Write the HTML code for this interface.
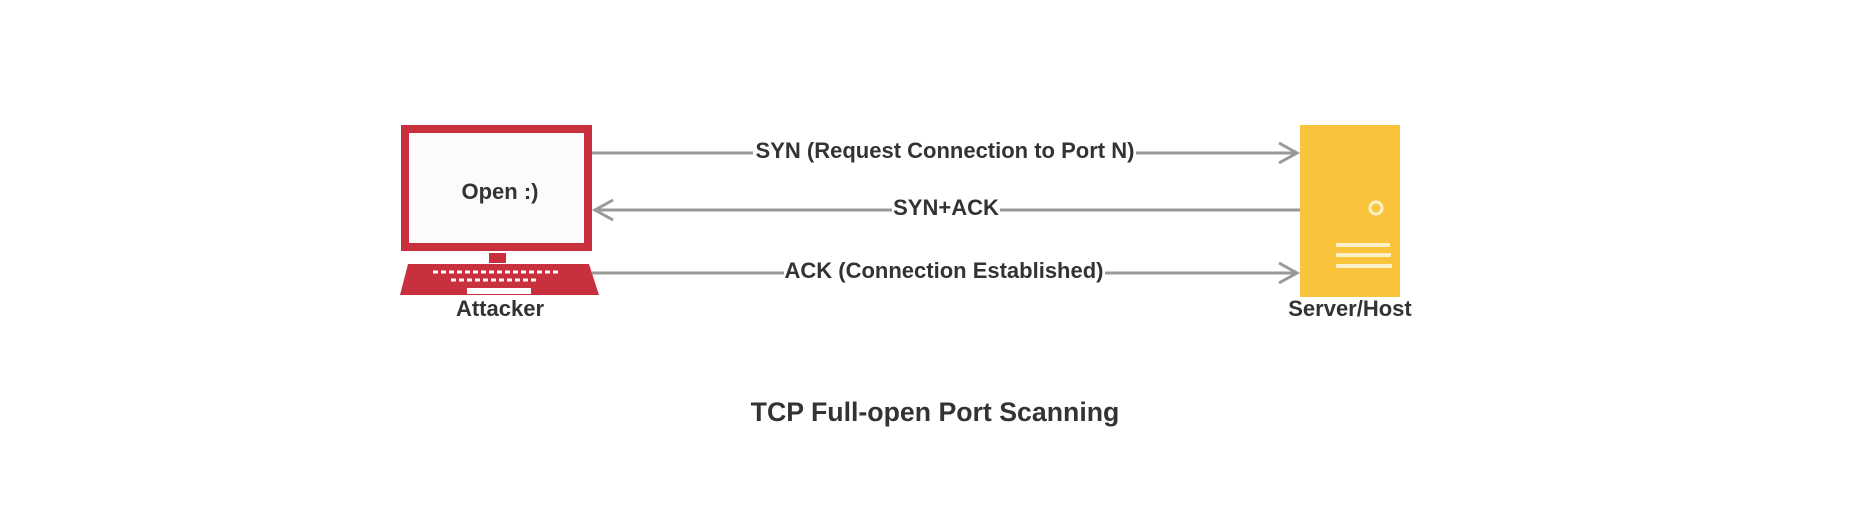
<!DOCTYPE html>
<html><head><style>
body{margin:0;background:#fff;}
svg{display:block;}
text{font-family:"Liberation Sans",sans-serif;font-weight:bold;fill:#333;}
</style></head><body>
<svg width="1870" height="510" viewBox="0 0 1870 510">
<rect x="405" y="129" width="183" height="118" fill="#fcfafa" stroke="#c9303e" stroke-width="8"/>
<rect x="489" y="253" width="17" height="10" fill="#c9303e"/>
<polygon points="408,264 589,264 599,295 400,295" fill="#c9303e"/>
<line x1="433" y1="272" x2="558" y2="272" stroke="#fff" stroke-width="3" stroke-dasharray="5,3"/>
<line x1="451" y1="280" x2="539" y2="280" stroke="#fff" stroke-width="3" stroke-dasharray="5,3"/>
<rect x="467" y="288" width="64" height="6" fill="#fff"/>
<text x="500" y="199" font-size="22" text-anchor="middle">Open :)</text>
<text x="500" y="316" font-size="22" text-anchor="middle">Attacker</text>
<rect x="1300" y="125" width="100" height="172" fill="#f9c33b"/>
<circle cx="1376" cy="208" r="6" fill="none" stroke="#fdf0c8" stroke-width="3"/>
<g stroke="#fdf0c8" stroke-width="4"><line x1="1336" y1="245" x2="1390" y2="245"/><line x1="1336" y1="255" x2="1391" y2="255"/><line x1="1336" y1="266" x2="1392" y2="266"/></g>
<text x="1350" y="316" font-size="22" text-anchor="middle">Server/Host</text>
<g stroke="#999" stroke-width="3" fill="none">
<line x1="592" y1="153" x2="1297" y2="153"/><polyline points="1279,143 1297,153 1279,163"/>
<line x1="595" y1="210" x2="1300" y2="210"/><polyline points="613,200 595,210 613,220"/>
<line x1="592" y1="273" x2="1297" y2="273"/><polyline points="1279,263 1297,273 1279,283"/>
</g>
<g fill="#fff">
<rect x="753" y="140" width="383" height="26"/>
<rect x="892" y="197" width="108" height="26"/>
<rect x="784" y="260" width="321" height="26"/>
</g>
<g font-size="22" text-anchor="middle">
<text x="945" y="158">SYN (Request Connection to Port N)</text>
<text x="946" y="215">SYN+ACK</text>
<text x="944" y="278">ACK (Connection Established)</text>
</g>
<text x="935" y="421" font-size="26.7" text-anchor="middle">TCP Full-open Port Scanning</text>
</svg>
</body></html>
